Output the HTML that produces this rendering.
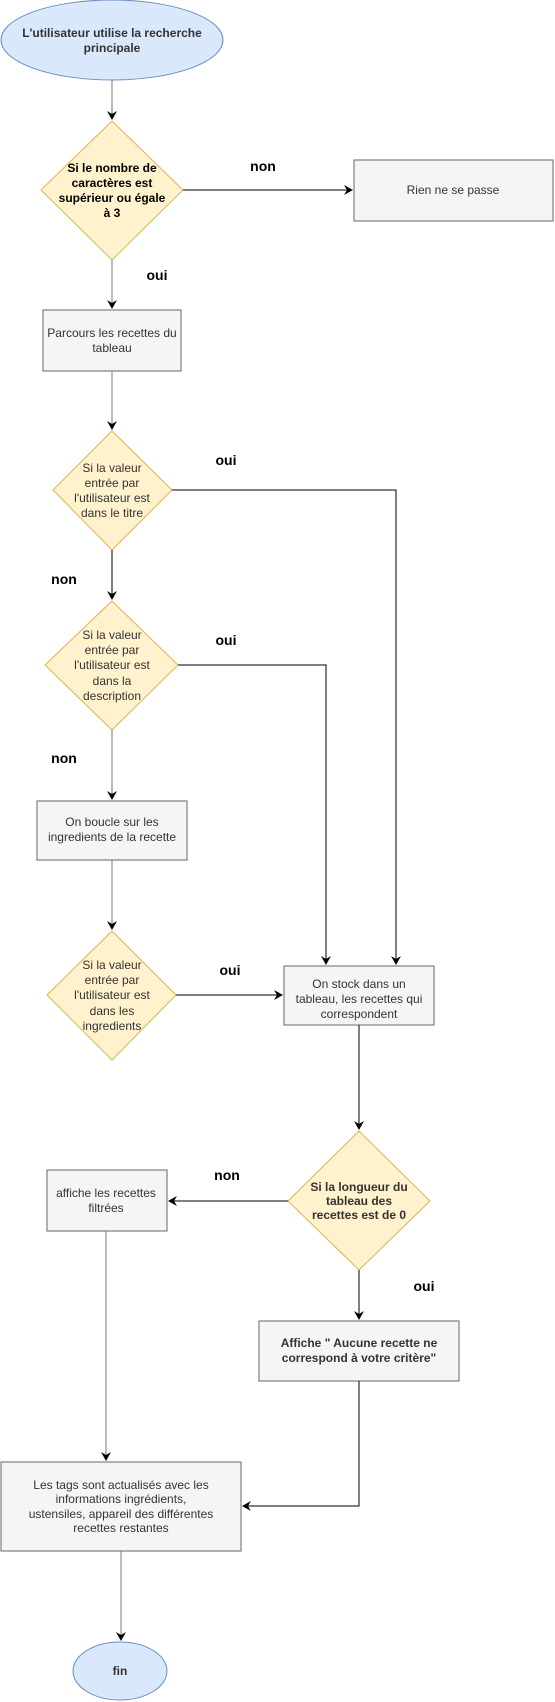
<!DOCTYPE html>
<html><head><meta charset="utf-8"><style>
html,body{margin:0;padding:0;background:#fff;}
svg{display:block;font-family:"Liberation Sans",sans-serif;}
text{font-size:12px;fill:#333;text-anchor:middle;}
.b{font-weight:bold;}
.l{font-size:14px;font-weight:bold;fill:#000;}
.box{fill:#f5f5f5;stroke:#666;stroke-width:1;}
.dia{fill:#fff2cc;stroke:#d6b656;stroke-width:1;}
.ell{fill:#dae8fc;stroke:#6c8ebf;stroke-width:1;}
.ln{fill:none;stroke:#000;stroke-width:1;}
.lg{fill:none;stroke:#777;stroke-width:1;}
</style></head><body>
<svg width="555" height="1702" viewBox="0 0 555 1702">
<defs><marker id="a" markerWidth="10" markerHeight="10" refX="8" refY="5" orient="auto" markerUnits="userSpaceOnUse"><path d="M0,0 L9,5 L0,10 L3,5 z" fill="#000"/></marker></defs>

<ellipse class="ell" cx="112" cy="40" rx="111" ry="40"/>
<text class="b" x="112" y="37">L'utilisateur utilise la recherche</text>
<text class="b" x="112" y="52">principale</text>
<path class="lg" d="M112 80 V119" marker-end="url(#a)"/>

<polygon class="dia" points="112,121 183,190 112,260 41,190"/>
<text class="b" x="112" y="172" style="fill:#000">Si le nombre de</text>
<text class="b" x="112" y="187" style="fill:#000">caractères est</text>
<text class="b" x="112" y="202" style="fill:#000">supérieur ou égale</text>
<text class="b" x="112" y="217" style="fill:#000">à 3</text>
<path class="ln" d="M183 190 H352" marker-end="url(#a)"/>
<text class="l" x="263" y="171">non</text>
<rect class="box" x="354" y="160" width="199" height="61"/>
<text x="453" y="194">Rien ne se passe</text>
<path class="lg" d="M112 260 V308" marker-end="url(#a)"/>
<text class="l" x="157" y="280">oui</text>

<rect class="box" x="43" y="310" width="138" height="61"/>
<text x="112" y="337">Parcours les recettes du</text>
<text x="112" y="352">tableau</text>
<path class="lg" d="M112 371 V429" marker-end="url(#a)"/>

<polygon class="dia" points="112,431 172,490 112,550 53,490"/>
<text x="112" y="472">Si la valeur</text>
<text x="112" y="487">entrée par</text>
<text x="112" y="502">l'utilisateur est</text>
<text x="112" y="517">dans le titre</text>
<path class="ln" d="M172 490 H396 V964" marker-end="url(#a)"/>
<text class="l" x="226" y="465">oui</text>
<path class="ln" d="M112 550 V599" marker-end="url(#a)"/>
<text class="l" x="64" y="584">non</text>

<polygon class="dia" points="112,601 178,665 112,730 45,665"/>
<text x="112" y="639">Si la valeur</text>
<text x="112" y="654">entrée par</text>
<text x="112" y="669">l'utilisateur est</text>
<text x="112" y="685">dans la</text>
<text x="112" y="700">description</text>
<path class="ln" d="M178 665 H326 V964" marker-end="url(#a)"/>
<text class="l" x="226" y="645">oui</text>
<path class="lg" d="M112 730 V799" marker-end="url(#a)"/>
<text class="l" x="64" y="763">non</text>

<rect class="box" x="37" y="801" width="150" height="59"/>
<text x="112" y="826">On boucle sur les</text>
<text x="112" y="841">ingredients de la recette</text>
<path class="lg" d="M112 860 V929" marker-end="url(#a)"/>

<polygon class="dia" points="112,931 176,995 112,1060 47,995"/>
<text x="112" y="969">Si la valeur</text>
<text x="112" y="984">entrée par</text>
<text x="112" y="999">l'utilisateur est</text>
<text x="112" y="1015">dans les</text>
<text x="112" y="1030">ingredients</text>
<path class="ln" d="M176 995 H282" marker-end="url(#a)"/>
<text class="l" x="230" y="975">oui</text>

<rect class="box" x="284" y="966" width="150" height="59"/>
<text x="359" y="988">On stock dans un</text>
<text x="359" y="1003">tableau, les recettes qui</text>
<text x="359" y="1018">correspondent</text>
<path class="ln" d="M359 1025 V1129" marker-end="url(#a)"/>

<polygon class="dia" points="359,1131 430,1201 359,1270 288,1201"/>
<text class="b" x="359" y="1191">Si la longueur du</text>
<text class="b" x="359" y="1205">tableau des</text>
<text class="b" x="359" y="1219">recettes est de 0</text>
<path class="ln" d="M288 1201 H169" marker-end="url(#a)"/>
<text class="l" x="227" y="1180">non</text>
<path class="ln" d="M359 1270 V1319" marker-end="url(#a)"/>
<text class="l" x="424" y="1291">oui</text>

<rect class="box" x="47" y="1170" width="120" height="61"/>
<text x="106" y="1197">affiche les recettes</text>
<text x="106" y="1212">filtrées</text>
<path class="lg" d="M106 1231 V1460" marker-end="url(#a)"/>

<rect class="box" x="259" y="1321" width="200" height="60"/>
<text class="b" x="359" y="1347">Affiche " Aucune recette ne</text>
<text class="b" x="359" y="1362">correspond à votre critère"</text>
<path class="ln" d="M359 1381 V1506 H243" marker-end="url(#a)"/>

<rect class="box" x="1" y="1462" width="240" height="89"/>
<text x="121" y="1489">Les tags sont actualisés avec les</text>
<text x="121" y="1503">informations ingrédients,</text>
<text x="121" y="1518">ustensiles, appareil des différentes</text>
<text x="121" y="1532">recettes restantes</text>
<path class="lg" d="M121 1551 V1640" marker-end="url(#a)"/>

<ellipse class="ell" cx="120" cy="1671" rx="47" ry="29"/>
<text class="b" x="120" y="1675">fin</text>
</svg>
</body></html>
